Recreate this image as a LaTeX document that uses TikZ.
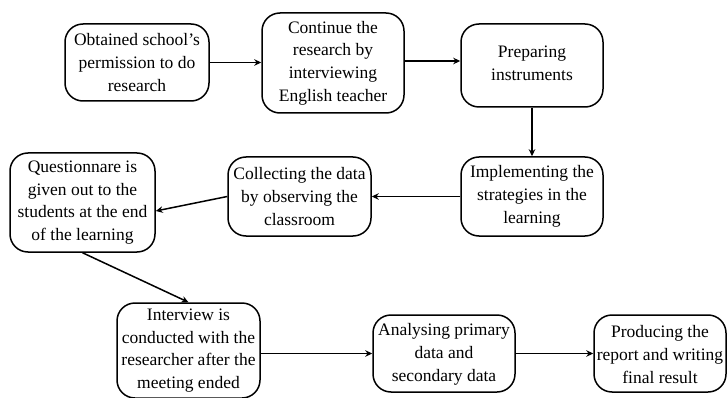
\documentclass[tikz,border=0pt]{standalone}
\usepackage{fontspec}
\setmainfont{Liberation Serif}
\newfontfamily\tnr{Liberation Serif}
\usetikzlibrary{arrows.meta,calc}
\begin{document}
\begin{tikzpicture}[x=1pt,y=-1pt,
  box/.style={draw,line width=1.5pt,rounded corners=18pt,inner sep=0pt},
  txt/.style={align=center,font=\tnr\fontsize{17.5}{22.7}\selectfont,inner sep=0pt},
  arr/.style={line width=1.5pt,-{Stealth[length=7pt,width=6.5pt]}}]
\useasboundingbox (0,0) rectangle (727,398);
\node[box,minimum width=144pt,minimum height=77pt] (b1) at (137,62.5) {};
\node[txt] (t1) at (b1.center) {Obtained school’s\\permission to do\\research};
\node[box,minimum width=142pt,minimum height=100pt] (b2) at (333,63) {};
\node[txt] (t2) at (b2.center) {Continue the\\research by\\interviewing\\English teacher};
\node[box,minimum width=142pt,minimum height=83pt] (b3) at (532,65.5) {};
\node[txt] (t3) at ([yshift=2pt]b3.center) {Preparing\\instruments};
\node[box,minimum width=142pt,minimum height=79pt] (b4) at (532,196.5) {};
\node[txt] (t4) at (b4.center) {Implementing the\\strategies in the\\learning};
\node[box,minimum width=143pt,minimum height=79pt] (b5) at (299.5,196.5) {};
\node[txt] (t5) at (b5.center) {Collecting the data\\by observing the\\classroom};
\node[box,minimum width=145pt,minimum height=99pt] (b6) at (82.5,202.5) {};
\node[txt] (t6) at (b6.center) {Questionnare is\\given out to the\\students at the end\\of the learning};
\node[box,minimum width=143pt,minimum height=95pt] (b7) at (188.5,350.5) {};
\node[txt] (t7) at (b7.center) {Interview is\\conducted with the\\researcher after the\\meeting ended};
\node[box,minimum width=142pt,minimum height=77pt] (b8) at (444,353.5) {};
\node[txt] (t8) at ([yshift=-1pt]b8.center) {Analysing primary\\data and\\secondary data};
\node[box,minimum width=132pt,minimum height=77pt] (b9) at (660,353.5) {};
\node[txt] (t9) at ([yshift=-1pt]b9.center) {Producing the\\report and writing\\final result};
\draw[arr] (b1.east) -- (b1.east -| b2.west);
\draw[arr] ([yshift=2pt]b2.east) -- ([yshift=2pt]b2.east -| b3.west);
\draw[arr] (b3.south) -- (b4.north);
\draw[arr] (b4.west) -- (b5.east);
\draw[arr] (b5.west) -- ([yshift=-8.5pt]b6.east);
\draw[arr] (b6.south) -- (b7.north);
\draw[arr] (b8.west -| b7.east) -- (b8.west);
\draw[arr] (b8.east) -- (b9.west);
\end{tikzpicture}
\end{document}
